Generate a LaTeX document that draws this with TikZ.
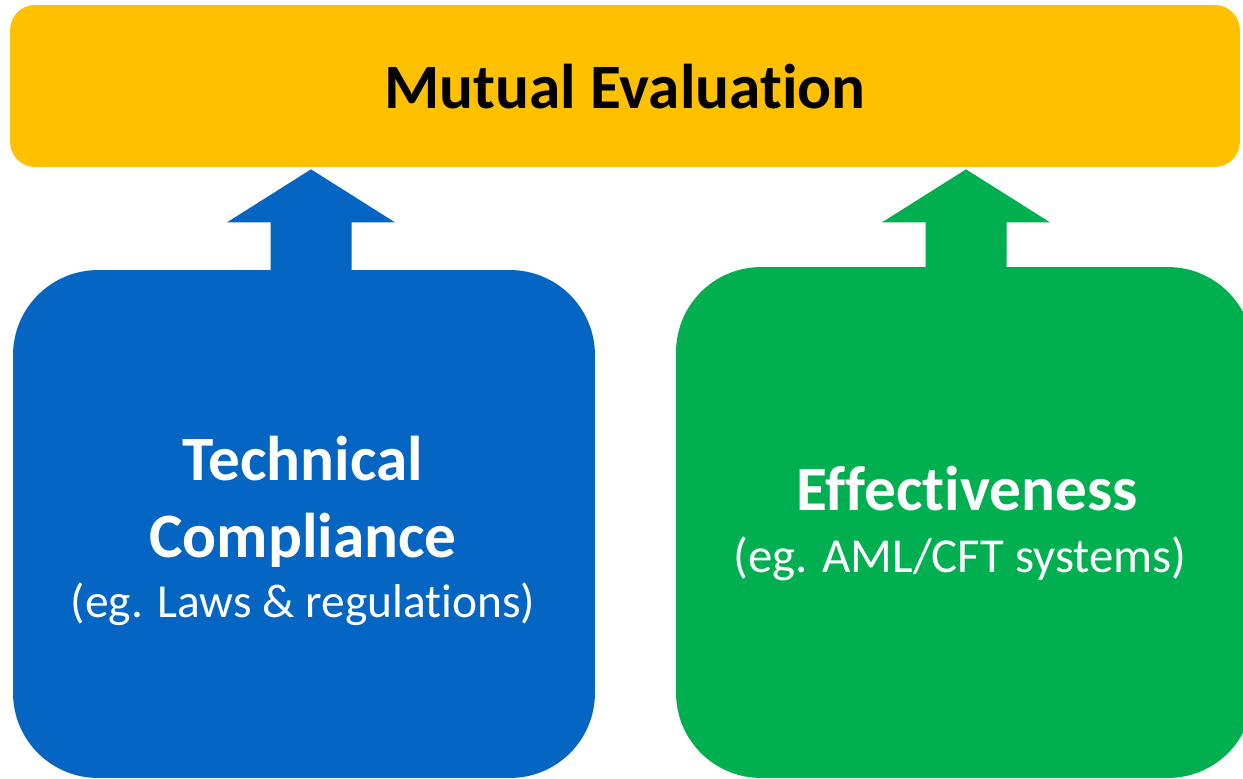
\documentclass[tikz,border=0pt]{standalone}
\usepackage{fontspec}
\setmainfont[Ligatures=NoCommon]{Carlito}
\usetikzlibrary{calc}
\definecolor{evalyellow}{HTML}{FFC000}
\definecolor{tcblue}{HTML}{0565C2}
\definecolor{effgreen}{HTML}{00B050}

\begin{document}
\begin{tikzpicture}[x=0.02cm,y=-0.02cm,
	pillar/.style={rounded corners=1.7cm,inner sep=0pt},
	heading/.style={anchor=base,font=\fontsize{36}{43}\selectfont\bfseries},
	note/.style={anchor=base,text=white,font=\fontsize{27}{32}\selectfont}]
	\useasboundingbox (0,0) rectangle (1243,778);

	% top bar
	\node[fill=evalyellow,rounded corners=0.5cm,inner sep=0pt,minimum width=24.6cm,minimum height=3.24cm] at (625,86) (me) {};
	\node[heading] at (625,108) (me-text) {Mutual Evaluation};

	% the two pillars
	\node[pillar,fill=tcblue,minimum width=11.64cm,minimum height=10.16cm] at (304,524) (tc) {};
	\node[pillar,fill=effgreen,minimum width=11.54cm,minimum height=10.22cm] at (964.5,522.5) (eff) {};

	% block arrows up into the bar
	\foreach \nm/\col/\dx in {tc/tcblue/7,eff/effgreen/1.5} {
		\path (\nm.north) ++(\dx,2) coordinate (\nm-foot);
		\path (\nm-foot |- me.south) ++(0,2) coordinate (\nm-tip);
		\fill[\col] ($(\nm-foot)+(-40.5,0)$) -- ($(\nm-tip)+(-40.5,53)$) -- ($(\nm-tip)+(-84,53)$) -- (\nm-tip)
			-- ($(\nm-tip)+(84,53)$) -- ($(\nm-tip)+(40.5,53)$) -- ($(\nm-foot)+(40.5,0)$) -- cycle;
	}

	\node[heading,text=white] at (303,480) (tc-a) {Technical};
	\node[heading,text=white] at (303,557) (tc-b) {Compliance};
	\node[note] at (303,617) (tc-c) {(eg. Laws \& regulations)};

	\node[heading,text=white] at (967,510) (eff-a) {Effectiveness};
	\node[note,font=\fontsize{27.8}{33}\selectfont] at (960,572) (eff-b) {(eg. AML/CFT systems)};
\end{tikzpicture}
\end{document}
